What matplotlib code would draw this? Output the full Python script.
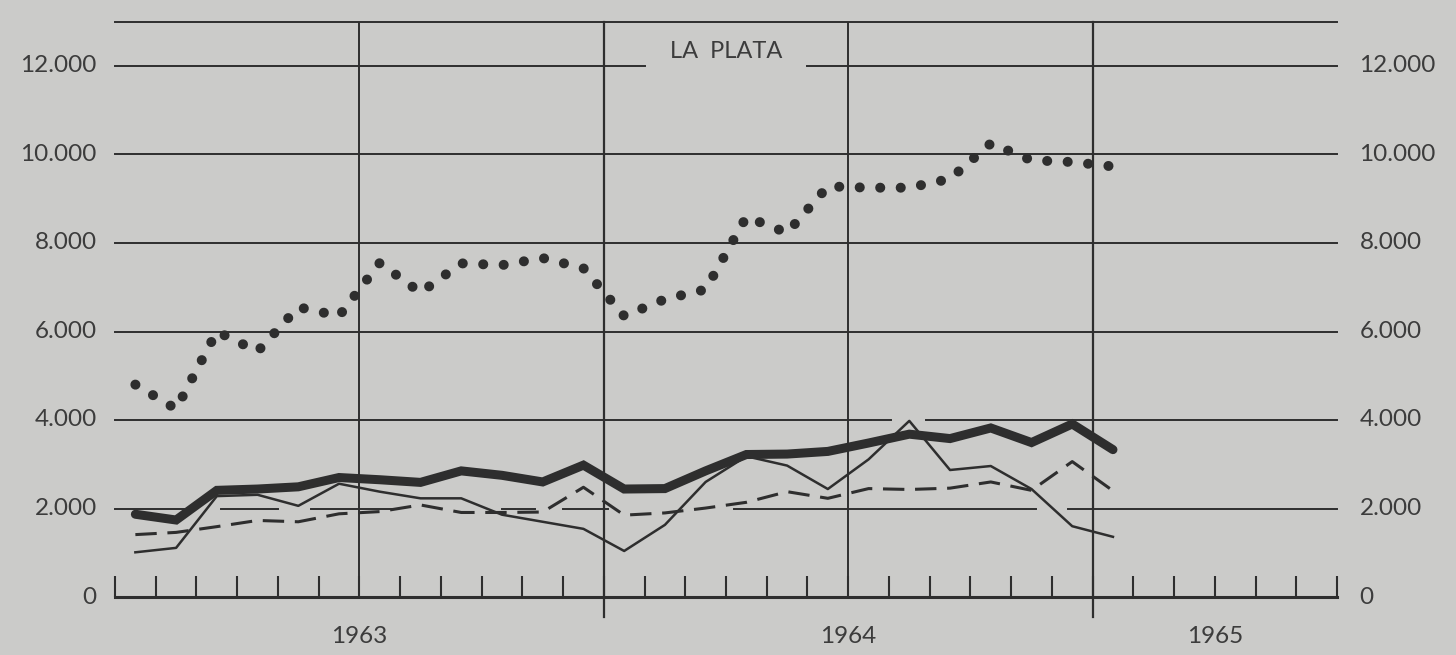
# encoding:utf-8
# Gráfico "LA PLATA" 1963-1965, cuatro series mensuales
import numpy as np
import matplotlib.pyplot as plt

plt.rcParams['font.family'] = ['Lato', 'DejaVu Sans']

# meses: enero 1963 .. enero 1965 (punto a mitad de cada mes)
meses = np.arange(25) + 0.5

serie_puntos = [4800, 4250, 6000, 5550, 6550, 6350, 7550, 6880, 7540, 7500, 7660, 7430,
                6350, 6730, 6950, 8590, 8230, 9280, 9250, 9250, 9450, 10250, 9870, 9830,
                9730]
serie_gruesa = [1870, 1740, 2410, 2440, 2490, 2700, 2650, 2590, 2850, 2750, 2600, 2980,
                2440, 2450, 2850, 3220, 3230, 3290, 3480, 3680, 3580, 3820, 3490, 3910,
                3330]
serie_fina = [1010, 1110, 2280, 2310, 2060, 2560, 2380, 2230, 2230, 1860, 1700, 1540,
              1040, 1630, 2600, 3180, 2970, 2440, 3110, 3980, 2870, 2960, 2440, 1600,
              1360]
serie_trazos = [1410, 1460, 1590, 1730, 1700, 1880, 1930, 2080, 1910, 1910, 1920, 2480,
                1850, 1900, 2010, 2140, 2380, 2230, 2450, 2430, 2460, 2600, 2410, 3060,
                2400]

niveles = [0, 2000, 4000, 6000, 8000, 10000, 12000]
etiquetas = ['0', '2.000', '4.000', '6.000', '8.000', '10.000', '12.000']
anios = ['1963', '1964', '1965']
pos_anios = [6, 18, 27]
titulo = 'LA  PLATA'

fondo = '#cbcbc9'
tinta = '#2e2e2e'
texto = '#3c3c3c'

fig = plt.figure(figsize=(14.56, 6.55), dpi=100, facecolor=fondo)
ax = fig.add_axes([115 / 1456, 58 / 655, 1222 / 1456, 575.25 / 655])
ax.set_facecolor(fondo)
ax.set_xlim(0, 30)
ax.set_ylim(0, 13000)

for lado in ['top', 'left', 'right']:
    ax.spines[lado].set_visible(False)
ax.spines['bottom'].set_linewidth(2.2)
ax.spines['bottom'].set_color(tinta)

# marcas mensuales hacia arriba
ax.set_xticks(range(0, 31))
ax.set_xticklabels([])
ax.set_yticks([])
ax.tick_params(axis='x', direction='in', length=15, width=1.5, color=tinta)

# líneas horizontales (con los cortes del original)
tramos = {
    2000: [(0, 1.7), (2.6, 4.0), (4.8, 6.8), (9.5, 10.3), (11.0, 12.1), (15.2, 22.6), (23.4, 30)],
    4000: [(0, 19.05), (19.9, 30)],
    6000: [(0, 30)],
    8000: [(0, 30)],
    10000: [(0, 30)],
    12000: [(0, 13.0), (17.0, 30)],
    13000: [(0, 30)],
}
for nivel, segs in tramos.items():
    for a, b in segs:
        ax.plot([a, b], [nivel, nivel], color=tinta, lw=1.4, clip_on=False)

# líneas verticales: medio año y cambio de año
ax.vlines([6, 18], 0, 13000, color=tinta, lw=1.4)
for x in [12, 24]:
    ax.axvline(x, ymin=-0.035, ymax=1, color=tinta, lw=1.6, clip_on=False)

# series
ax.plot(meses, serie_puntos, color=tinta, lw=7.2, linestyle=(0, (0.01, 2.04)),
        dash_capstyle='round')
ax.plot(meses, serie_gruesa, color=tinta, lw=6.5, solid_capstyle='round',
        solid_joinstyle='miter')
ax.plot(meses, serie_fina, color=tinta, lw=1.8)
ax.plot(meses, serie_trazos, color=tinta, lw=2.2, linestyle=(0, (7, 3.5)))

# etiquetas de ambos lados
for v, t in zip(niveles, etiquetas):
    ax.text(-0.45, v, t, ha='right', va='center', fontsize=17.5, color=texto,
            fontweight='normal', clip_on=False)
    ax.text(30.55, v, t, ha='left', va='center', fontsize=17.5, color=texto,
            fontweight='normal', clip_on=False)

for p, a in zip(pos_anios, anios):
    ax.text(p, -900, a, ha='center', va='center', fontsize=17.5, color=texto,
            fontweight='normal', clip_on=False)

ax.text(15.0, 12330, titulo, ha='center', va='center', fontsize=17, color=texto,
        fontweight='normal')

fig.savefig('out.png', dpi=100, facecolor=fondo)
